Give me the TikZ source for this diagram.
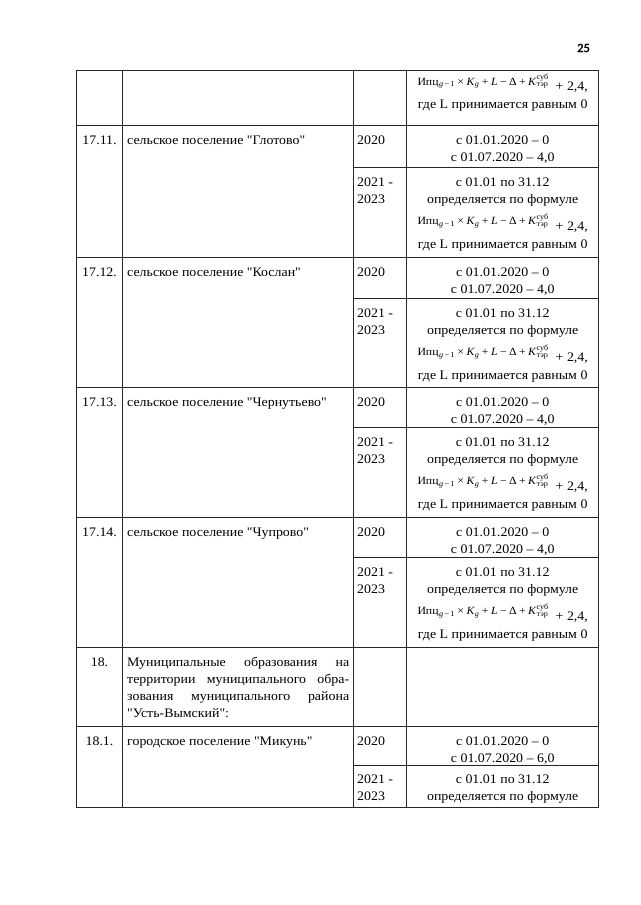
\documentclass[tikz,border=0pt]{standalone}
\usepackage{fontspec}
\usepackage{amsmath}
\setmainfont{Liberation Serif}[Ligatures=TeXOff, FakeStretch=1.07]
\newfontfamily\pgnumfont{Carlito}[FakeBold=1.5]
\setlength{\lineskiplimit}{-100pt}
\newcommand{\mytxt}{\fontsize{13}{17}\selectfont}
\newcommand{\sop}{\mskip 4mu}
\newcommand{\ipcf}{{\fontsize{11}{11}\selectfont Ипц\textsubscript{\kern0.5pt\textit{g}\,−\,1}$\sop$×$\sop$\textit{K}\textsubscript{\textit{g}}$\sop$+$\sop$\textit{L}$\sop$−$\sop$Δ$\sop$+$\sop$\textit{K}$^{\text{суб}}_{\text{тэр}}$}}
\newcommand{\fline}{\raisebox{5.5pt}{\ipcf}\ \ + 2,4,}
\newcommand{\valA}[1]{с 01.01.2020 – 0\\с 01.07.2020 – #1}
\newcommand{\valB}{с 01.01 по 31.12\\определяется по формуле\\[6.5pt]\fline\\[1pt]где L принимается равным 0}
\tikzset{
  gridline/.style={line width=0.9pt, draw=black!85},
  txt/.style={inner sep=0pt, font=\mytxt},
  numcell/.style={txt, anchor=base},
  lcell/.style={txt, anchor=base west},
}
\begin{document}
\begin{tikzpicture}[x=1pt,y=-1pt]
\useasboundingbox[fill=white] (0,0) rectangle (640,905);
% page number
\node[anchor=base, inner sep=0pt, font=\pgnumfont\fontsize{12.5}{13}\selectfont] (pg) at (583.5,52) {25};
% grid
\draw[gridline] (76.5,70) rectangle (598.5,807);
\foreach \x in {122.5,353.5,406.5} \draw[gridline] (\x,70) -- (\x,807);
\foreach \y in {125,257,387,517,647,726} \draw[gridline] (76.5,\y) -- (598.5,\y);
\foreach \y in {167,298,427,557,765} \draw[gridline] (353.5,\y) -- (598.5,\y);
% first (continued) row
\node[lcell] (v0) at (406.5,90.5) {\parbox[t]{192pt}{\centering\fline\\[1pt]где L принимается равным 0}};
% rows 17.11 - 17.14
\foreach \T/\S/\n/\nm [count=\i] in {125/167/17.11./Глотово, 257/298/17.12./Кослан, 387/427/17.13./Чернутьево, 517/557/17.14./Чупрово}{
  \node[numcell] (num\i) at (99.5,\T+19.5) {\n};
  \node[lcell] (name\i) at (127,\T+19.5) {сельское поселение "\nm"};
  \node[lcell] (ya\i) at (357,\T+19.5) {2020};
  \node[lcell] (va\i) at (406.5,\T+19.5) {\parbox[t]{192pt}{\centering\valA{4,0}}};
  \node[lcell] (yb\i) at (357,\S+19.5) {\parbox[t]{45pt}{2021 -\\2023}};
  \node[lcell] (vb\i) at (406.5,\S+19.5) {\parbox[t]{192pt}{\centering\valB}};
}
% row 18
\node[numcell] (num18) at (99.5,666) {18.};
\node[lcell] (name18) at (127,666) {\parbox[t]{222pt}{Муниципальные\hfill образования\hfill на\\территории\hfill муниципального\hfill обра-\\зования\hfill муниципального\hfill района\\"Усть-Вымский":}};
% row 18.1
\node[numcell] (num181) at (99.5,745) {18.1.};
\node[lcell] (name181) at (127,745) {городское поселение "Микунь"};
\node[lcell] (ya181) at (357,745) {2020};
\node[lcell] (va181) at (406.5,745) {\parbox[t]{192pt}{\centering\valA{6,0}}};
\node[lcell] (yb181) at (357,783) {\parbox[t]{45pt}{2021 -\\2023}};
\node[lcell] (vb181) at (406.5,783) {\parbox[t]{192pt}{\centering с 01.01 по 31.12\\определяется по формуле}};
\end{tikzpicture}
\end{document}
